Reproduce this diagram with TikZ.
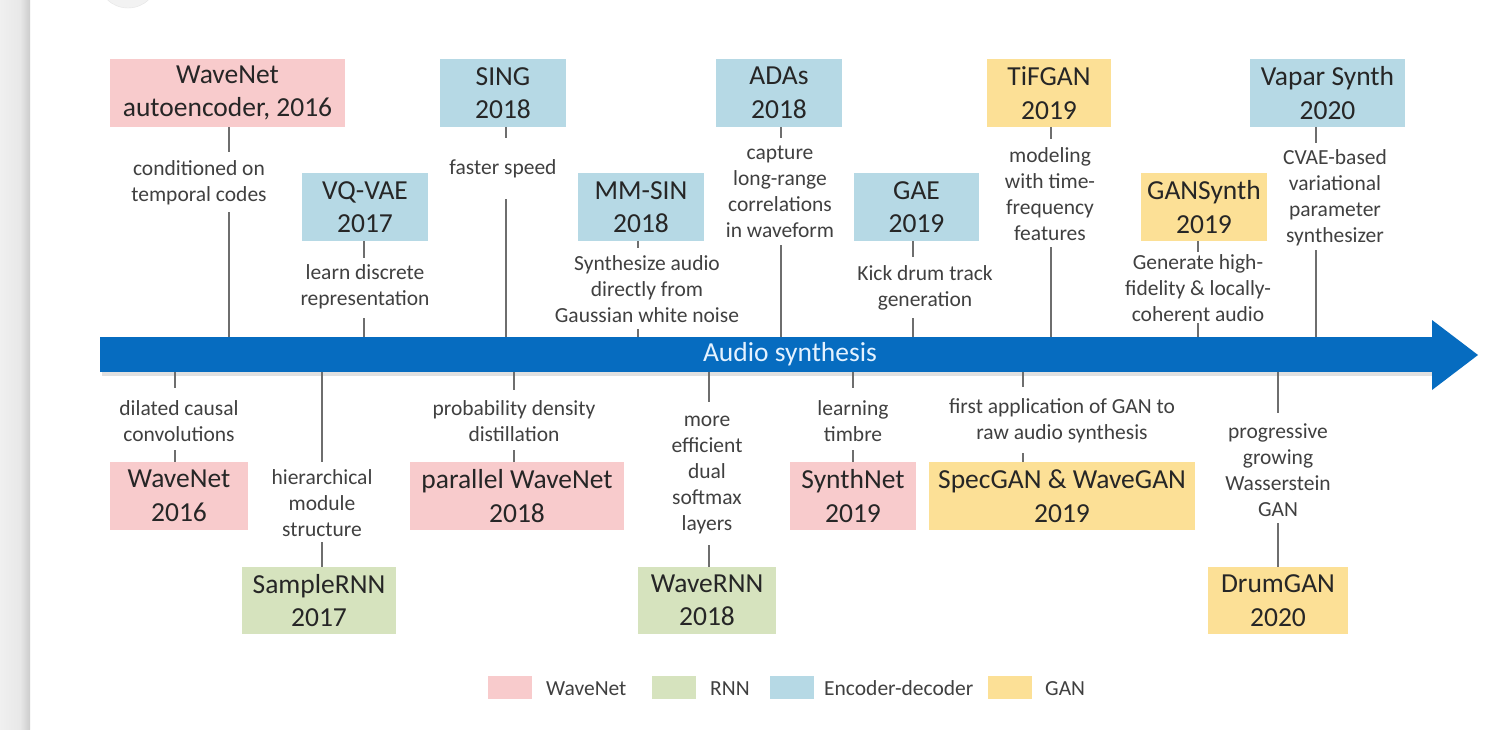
\documentclass[tikz,border=0pt]{standalone}
\usepackage{fontspec}
\setmainfont{Carlito}
\definecolor{wnpink}{RGB}{248,203,204}
\definecolor{rnngreen}{RGB}{214,227,190}
\definecolor{encblue}{RGB}{182,217,229}
\definecolor{ganyellow}{RGB}{252,224,150}
\definecolor{barblue}{RGB}{6,108,192}
\definecolor{boxtext}{RGB}{38,38,38}
\definecolor{labtext}{RGB}{64,64,64}
\definecolor{conngray}{RGB}{110,110,110}
\definecolor{titletext}{RGB}{228,242,255}
\begin{document}
\begin{tikzpicture}[x=1pt,y=-1pt,
  box/.style={rectangle, inner sep=0pt, minimum height=68pt, align=center,
    font=\fontsize{27.5}{33.5}\selectfont, text=boxtext},
  lab/.style={inner sep=0pt, align=center, font=\fontsize{21.5}{26}\selectfont, text=labtext},
  conn/.style={draw=conngray, line width=1.4pt},
  legsq/.style={rectangle, inner sep=0pt, minimum width=44pt, minimum height=23pt},
  legtxt/.style={anchor=base west, inner sep=0pt, font=\fontsize{21.5}{26}\selectfont, text=labtext}]
\useasboundingbox (0,0) rectangle (1496,729);
\fill[white] (0,0) rectangle (1496,729);
% left strip and top circle
\shade[left color=black!6, right color=black!9] (0,0) rectangle (20,729);
\shade[left color=black!9, right color=black!20] (20,0) rectangle (30,729);
\begin{scope}
\clip (30,0) rectangle (1496,729);
\fill[black!5, draw=black!10] (128,-22) circle (30);
\end{scope}

% timeline bar
\fill[black, opacity=0.12] (102,340) rectangle (1436,376);
\node[fill=barblue, minimum width=1333pt, minimum height=35pt, inner sep=0pt] (bar) at (766.5,354.5) {};
\fill[barblue] (1432,320) -- (1478,355) -- (1432,390) -- cycle;
\node[inner sep=0pt, font=\fontsize{27.5}{33.5}\selectfont, text=titletext] (title) at (790,354) {Audio synthesis};

% top boxes
\node[box, fill=wnpink, minimum width=235pt] (wae) at (227.5,93) {WaveNet\\autoencoder, 2016};
\node[box, fill=encblue, minimum width=126pt] (sing) at (503,93) {SING\\2018};
\node[box, fill=encblue, minimum width=126pt] (adas) at (779,93) {ADAs\\2018};
\node[box, fill=ganyellow, minimum width=124pt] (tifgan) at (1049,93) {TiFGAN\\2019};
\node[box, fill=encblue, minimum width=155pt] (vapar) at (1327.5,93) {Vapar Synth\\2020};
\node[box, fill=encblue, minimum width=126pt] (vqvae) at (365,207) {VQ-VAE\\2017};
\node[box, fill=encblue, minimum width=126pt] (mmsin) at (641,207) {MM-SIN\\2018};
\node[box, fill=encblue, minimum width=125pt] (gae) at (916.5,207) {GAE\\2019};
\node[box, fill=ganyellow, minimum width=126pt] (gansynth) at (1204,207) {GANSynth\\2019};

% bottom boxes
\node[box, fill=wnpink, minimum width=138pt] (wavenet) at (179,496) {WaveNet\\2016};
\node[box, fill=wnpink, minimum width=214pt] (pwavenet) at (517,496) {parallel WaveNet\\2018};
\node[box, fill=wnpink, minimum width=126pt] (synthnet) at (853,496) {SynthNet\\2019};
\node[box, fill=ganyellow, minimum width=266pt] (specgan) at (1062,496) {SpecGAN \& WaveGAN\\2019};
\node[box, fill=rnngreen, minimum width=154pt, minimum height=67pt] (samplernn) at (319,600.5) {SampleRNN\\2017};
\node[box, fill=rnngreen, minimum width=138pt, minimum height=67pt] (wavernn) at (707,600.5) {WaveRNN\\2018};
\node[box, fill=ganyellow, minimum width=140pt, minimum height=67pt] (drumgan) at (1278,600.5) {DrumGAN\\2020};

% top labels
\node[lab] (lwae) at (199,183) {conditioned on\\temporal codes};
\node[lab] (lvq) at (365,287) {learn discrete\\representation};
\node[lab] (lsing) at (503,169) {faster speed};
\node[lab] (lmm) at (647,289) {Synthesize audio\\directly from\\Gaussian white noise};
\node[lab] (ladas) at (780,192) {capture\\long-range\\correlations\\in waveform};
\node[lab] (lgae) at (925,288) {Kick drum track\\generation};
\node[lab] (ltif) at (1050,194) {modeling\\with time-\\frequency\\features};
\node[lab] (lgs) at (1198,288) {Generate high-\\fidelity \& locally-\\coherent audio};
\node[lab] (lvap) at (1335,198) {CVAE-based\\variational\\parameter\\synthesizer};

% bottom labels
\node[lab] (lwn) at (179,421) {dilated causal\\convolutions};
\node[lab] (lsrnn) at (322,503) {hierarchical\\module\\structure};
\node[lab] (lpwn) at (514,421) {probability density\\distillation};
\node[lab] (lwrnn) at (707,475) {more\\efficient\\dual\\softmax\\layers};
\node[lab] (lsn) at (853,421) {learning\\timbre};
\node[lab] (lsg) at (1062,421) {first application of GAN to\\raw audio synthesis};
\node[lab] (ldg) at (1278,470) {progressive\\growing\\Wasserstein\\GAN};

% connector points (top)
\coordinate (ta1) at (229,152);  \coordinate (tb1) at (229,212);
\coordinate (ta2) at (364,258);  \coordinate (tb2) at (364,318);
\coordinate (ta3) at (506,138);  \coordinate (tb3) at (506,199);
\coordinate (ta4) at (638,248);  \coordinate (tb4) at (638,329);
\coordinate (ta5) at (781,138);  \coordinate (tb5) at (781,245);
\coordinate (ta6) at (913,257);  \coordinate (tb6) at (913,318);
\coordinate (ta7) at (1051,139); \coordinate (tb7) at (1051,247);
\coordinate (ta8) at (1198,252); \coordinate (tb8) at (1198,323);
\coordinate (ta9) at (1316,143); \coordinate (tb9) at (1316,250);
\draw[conn] (ta1 |- wae.south) -- (ta1);      \draw[conn] (tb1) -- (tb1 |- bar.north);
\draw[conn] (ta2 |- vqvae.south) -- (ta2);    \draw[conn] (tb2) -- (tb2 |- bar.north);
\draw[conn] (ta3 |- sing.south) -- (ta3);     \draw[conn] (tb3) -- (tb3 |- bar.north);
\draw[conn] (ta4 |- mmsin.south) -- (ta4);    \draw[conn] (tb4) -- (tb4 |- bar.north);
\draw[conn] (ta5 |- adas.south) -- (ta5);     \draw[conn] (tb5) -- (tb5 |- bar.north);
\draw[conn] (ta6 |- gae.south) -- (ta6);      \draw[conn] (tb6) -- (tb6 |- bar.north);
\draw[conn] (ta7 |- tifgan.south) -- (ta7);   \draw[conn] (tb7) -- (tb7 |- bar.north);
\draw[conn] (ta8 |- gansynth.south) -- (ta8); \draw[conn] (tb8) -- (tb8 |- bar.north);
\draw[conn] (ta9 |- vapar.south) -- (ta9);    \draw[conn] (tb9) -- (tb9 |- bar.north);

% connector points (bottom)
\coordinate (ba1) at (175,388);  \coordinate (bb1) at (175,450);
\coordinate (ba2) at (322,462);  \coordinate (bb2) at (322,542);
\coordinate (ba3) at (514,390);  \coordinate (bb3) at (514,450);
\coordinate (ba4) at (709,402);  \coordinate (bb4) at (709,545);
\coordinate (ba5) at (853,388);  \coordinate (bb5) at (853,450);
\coordinate (ba6) at (1023,387); \coordinate (bb6) at (1023,453);
\coordinate (ba7) at (1278,413); \coordinate (bb7) at (1278,523);
\draw[conn] (ba1 |- bar.south) -- (ba1); \draw[conn] (bb1) -- (bb1 |- wavenet.north);
\draw[conn] (ba2 |- bar.south) -- (ba2); \draw[conn] (bb2) -- (bb2 |- samplernn.north);
\draw[conn] (ba3 |- bar.south) -- (ba3); \draw[conn] (bb3) -- (bb3 |- pwavenet.north);
\draw[conn] (ba4 |- bar.south) -- (ba4); \draw[conn] (bb4) -- (bb4 |- wavernn.north);
\draw[conn] (ba5 |- bar.south) -- (ba5); \draw[conn] (bb5) -- (bb5 |- synthnet.north);
\draw[conn] (ba6 |- bar.south) -- (ba6); \draw[conn] (bb6) -- (bb6 |- specgan.north);
\draw[conn] (ba7 |- bar.south) -- (ba7); \draw[conn] (bb7) -- (bb7 |- drumgan.north);

% legend
\node[legsq, fill=wnpink] (lg1) at (510,687) {};
\node[legtxt] (lt1) at (546,695) {WaveNet};
\node[legsq, fill=rnngreen] (lg2) at (674,687) {};
\node[legtxt] (lt2) at (710,695) {RNN};
\node[legsq, fill=encblue] (lg3) at (792,687) {};
\node[legtxt] (lt3) at (824,695) {Encoder-decoder};
\node[legsq, fill=ganyellow] (lg4) at (1010,687) {};
\node[legtxt] (lt4) at (1045,695) {GAN};
\end{tikzpicture}
\end{document}
